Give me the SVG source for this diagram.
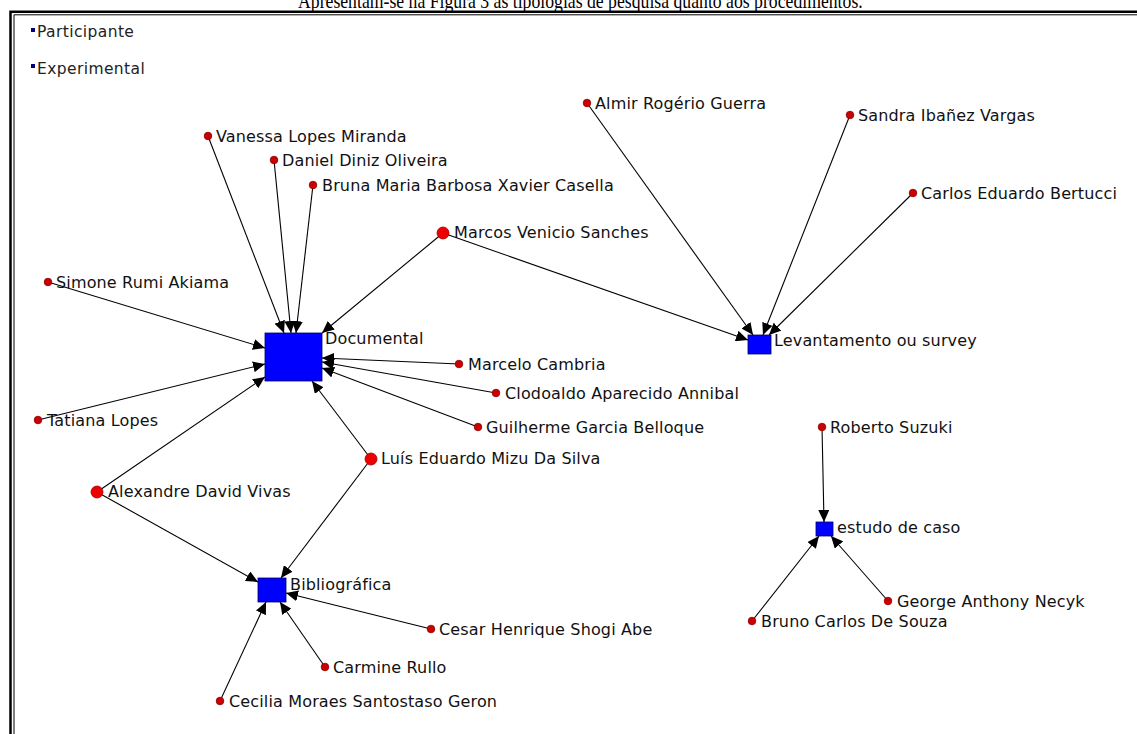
<svg xmlns="http://www.w3.org/2000/svg" width="1137" height="734" viewBox="0 0 1137 734">
  <style>
    .cap { font-family: "Liberation Serif", "Times New Roman", serif; font-size: 17.7px; fill: #000; }
    .lbl { font-family: "DejaVu Sans", Tahoma, sans-serif; font-size: 16px; letter-spacing: 0.15px; fill: #111; }
    .leg { font-family: "DejaVu Sans", Tahoma, sans-serif; font-size: 15.5px; letter-spacing: 0.4px; fill: #222; }
    .edge { stroke: #000; stroke-width: 1.1; fill: none; marker-end: url(#arrow); }
    .actor { fill: #cc0000; stroke: #8a0000; stroke-width: 0.8; }
    .actor-big { fill: #ee0000; stroke: #a00000; stroke-width: 0.8; }
    .type { fill: #0000ff; stroke: #000060; stroke-width: 0.8; }
    .legsq { fill: #000080; }
  </style>
  <defs>
    <marker id="arrow" markerUnits="userSpaceOnUse" markerWidth="13" markerHeight="11" refX="12" refY="5.5" orient="auto">
      <path d="M0,0 L12,5.5 L0,11 Z" fill="#000"/>
    </marker>
  </defs>

  <rect x="0" y="0" width="1137" height="734" fill="#fff"/>

  <!-- caption line above the frame (slightly stretched vertically) -->
  <text class="cap" transform="translate(298 7.5) scale(1 1.2)" x="0" y="0">Apresentam-se na Figura 3 as tipologias de pesquisa quanto aos procedimentos.</text>

  <!-- double frame (top and left edges) -->
  <g id="frame" stroke="#000" fill="none">
    <path d="M10.5,734 V11.8 H1137" stroke-width="2.5"/>
    <path d="M14,734 V14.8 H1137" stroke-width="1"/>
  </g>

  <!-- legend -->
  <g id="legend">
    <rect class="legsq" x="31" y="28" width="4" height="4"/>
    <text class="leg" x="37" y="37">Participante</text>
    <rect class="legsq" x="31" y="64" width="4" height="4"/>
    <text class="leg" x="37" y="74">Experimental</text>
  </g>

  <!-- connectors: each actor points to its research type -->
  <g id="connectors">
    <line class="edge" x1="208" y1="136" x2="284" y2="333"/>
    <line class="edge" x1="274" y1="160" x2="291" y2="333"/>
    <line class="edge" x1="313" y1="185" x2="296" y2="333"/>
    <line class="edge" x1="443" y1="233" x2="322" y2="333"/>
    <line class="edge" x1="48" y1="282" x2="265" y2="348"/>
    <line class="edge" x1="38" y1="420" x2="265" y2="364"/>
    <line class="edge" x1="97" y1="492" x2="265" y2="377"/>
    <line class="edge" x1="459" y1="364" x2="322" y2="358"/>
    <line class="edge" x1="496" y1="393" x2="322" y2="362"/>
    <line class="edge" x1="478" y1="427" x2="322" y2="368"/>
    <line class="edge" x1="371" y1="459" x2="312" y2="381"/>

    <line class="edge" x1="97" y1="492" x2="258" y2="582"/>
    <line class="edge" x1="371" y1="459" x2="281" y2="578"/>
    <line class="edge" x1="431" y1="629" x2="286" y2="593"/>
    <line class="edge" x1="325" y1="667" x2="280" y2="602"/>
    <line class="edge" x1="220" y1="701" x2="266" y2="602"/>

    <line class="edge" x1="443" y1="233" x2="748" y2="340"/>
    <line class="edge" x1="587" y1="103" x2="753" y2="335"/>
    <line class="edge" x1="850" y1="115" x2="763" y2="335"/>
    <line class="edge" x1="913" y1="193" x2="769" y2="335"/>

    <line class="edge" x1="822" y1="427" x2="824" y2="522"/>
    <line class="edge" x1="752" y1="621" x2="819" y2="536"/>
    <line class="edge" x1="888" y1="601" x2="831" y2="536"/>
  </g>

  <!-- research types -->
  <g id="documental">
    <rect class="type" x="265" y="333" width="57" height="48"/>
    <text class="lbl" x="325" y="344">Documental</text>
  </g>
  <g id="bibliografica">
    <rect class="type" x="258" y="578" width="28" height="24"/>
    <text class="lbl" x="290" y="590">Bibliográfica</text>
  </g>
  <g id="levantamento">
    <rect class="type" x="748" y="335" width="23" height="19"/>
    <text class="lbl" x="774" y="346">Levantamento ou survey</text>
  </g>
  <g id="estudo-de-caso">
    <rect class="type" x="816" y="522" width="17" height="14"/>
    <text class="lbl" x="837" y="533">estudo de caso</text>
  </g>

  <!-- actors -->
  <g id="vanessa"><circle class="actor" cx="208" cy="136" r="3.8"/><text class="lbl" x="216" y="142">Vanessa Lopes Miranda</text></g>
  <g id="daniel"><circle class="actor" cx="274" cy="160" r="3.8"/><text class="lbl" x="282" y="166">Daniel Diniz Oliveira</text></g>
  <g id="bruna"><circle class="actor" cx="313" cy="185" r="3.8"/><text class="lbl" x="322" y="191">Bruna Maria Barbosa Xavier Casella</text></g>
  <g id="marcos"><circle class="actor-big" cx="443" cy="233" r="6"/><text class="lbl" x="454" y="238">Marcos Venicio Sanches</text></g>
  <g id="simone"><circle class="actor" cx="48" cy="282" r="3.8"/><text class="lbl" x="56" y="288">Simone Rumi Akiama</text></g>
  <g id="tatiana"><circle class="actor" cx="38" cy="420" r="3.8"/><text class="lbl" x="47" y="426">Tatiana Lopes</text></g>
  <g id="alexandre"><circle class="actor-big" cx="97" cy="492" r="6"/><text class="lbl" x="108" y="497">Alexandre David Vivas</text></g>
  <g id="marcelo"><circle class="actor" cx="459" cy="364" r="3.8"/><text class="lbl" x="468" y="370">Marcelo Cambria</text></g>
  <g id="clodoaldo"><circle class="actor" cx="496" cy="393" r="3.8"/><text class="lbl" x="505" y="399">Clodoaldo Aparecido Annibal</text></g>
  <g id="guilherme"><circle class="actor" cx="478" cy="427" r="3.8"/><text class="lbl" x="486" y="433">Guilherme Garcia Belloque</text></g>
  <g id="luis"><circle class="actor-big" cx="371" cy="459" r="6"/><text class="lbl" x="381" y="464">Luís Eduardo Mizu Da Silva</text></g>
  <g id="cesar"><circle class="actor" cx="431" cy="629" r="3.8"/><text class="lbl" x="439" y="635">Cesar Henrique Shogi Abe</text></g>
  <g id="carmine"><circle class="actor" cx="325" cy="667" r="3.8"/><text class="lbl" x="333" y="673">Carmine Rullo</text></g>
  <g id="cecilia"><circle class="actor" cx="220" cy="701" r="3.8"/><text class="lbl" x="229" y="707">Cecilia Moraes Santostaso Geron</text></g>
  <g id="almir"><circle class="actor" cx="587" cy="103" r="3.8"/><text class="lbl" x="595" y="109">Almir Rogério Guerra</text></g>
  <g id="sandra"><circle class="actor" cx="850" cy="115" r="3.8"/><text class="lbl" x="858" y="121">Sandra Ibañez Vargas</text></g>
  <g id="carlos"><circle class="actor" cx="913" cy="193" r="3.8"/><text class="lbl" x="921" y="199">Carlos Eduardo Bertucci</text></g>
  <g id="roberto"><circle class="actor" cx="822" cy="427" r="3.8"/><text class="lbl" x="830" y="433">Roberto Suzuki</text></g>
  <g id="george"><circle class="actor" cx="888" cy="601" r="3.8"/><text class="lbl" x="897" y="607">George Anthony Necyk</text></g>
  <g id="bruno"><circle class="actor" cx="752" cy="621" r="3.8"/><text class="lbl" x="761" y="627">Bruno Carlos De Souza</text></g>
</svg>
